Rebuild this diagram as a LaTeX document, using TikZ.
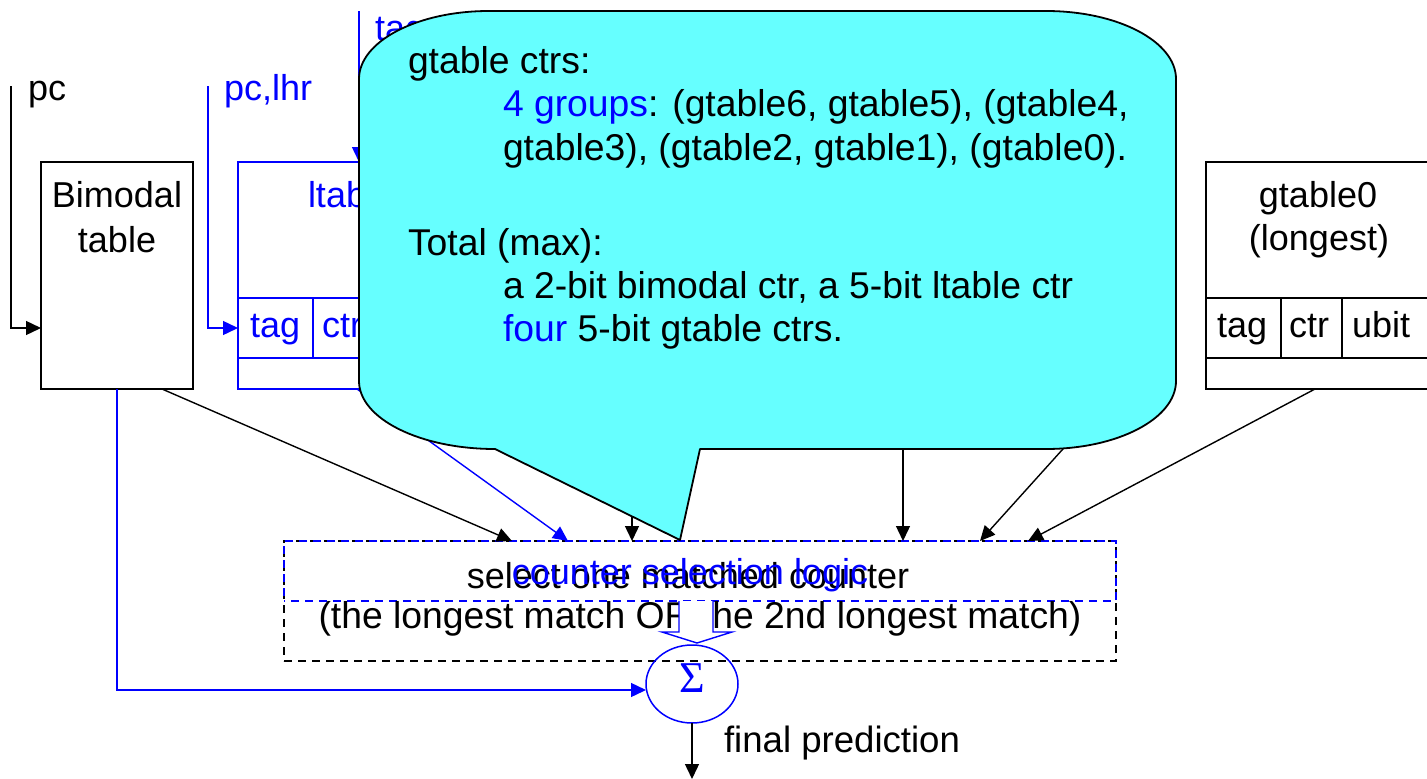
\documentclass[tikz,border=0pt]{standalone}
\usepackage{fontspec}
\setmainfont{Liberation Sans}
\newfontfamily\sigfont{Liberation Serif}
\usetikzlibrary{arrows.meta,shapes.geometric}
\definecolor{cyanfill}{HTML}{66FFFF}
\definecolor{pblue}{HTML}{0000FF}
\tikzset{
  every node/.style={font=\fontsize{36}{43}\selectfont, inner sep=0pt, outer sep=0pt},
  big/.style={font=\fontsize{37.3}{44}\selectfont},
  lbl/.style={anchor=base},
  lblw/.style={anchor=base west},
  blk/.style={draw=black, line width=1.6pt},
  blu/.style={draw=pblue, line width=1.6pt},
  tbox/.style={rectangle, line width=1.6pt, inner sep=0pt},
  conn/.style={draw=black, line width=1.4pt, -{Triangle[length=15pt,width=14pt]}},
  bconn/.style={draw=pblue, line width=1.4pt, -{Triangle[length=15pt,width=14pt]}},
  blkdash/.style={draw=black, line width=1.4pt, dash pattern=on 8pt off 6pt},
  bludash/.style={draw=pblue, line width=1.4pt, dash pattern=on 8pt off 6pt, dash phase=7pt},
  callout/.style={fill=cyanfill, draw=black, line width=1.8pt, line join=round},
}
\begin{document}
\begin{tikzpicture}[x=1pt,y=-1pt]
\useasboundingbox (0,0) rectangle (1427,779);

% ---------- tables ----------
\node[tbox, draw=black, minimum width=152pt, minimum height=227pt] (bim) at (117,275.5) {};
\node[lbl] (bimt1) at (117,207) {Bimodal};
\node[lbl] (bimt2) at (117,252) {table};

\node[tbox, draw=pblue, minimum width=238pt, minimum height=227pt] (ltab) at (357,275.5) {};
\draw[blu] (238,298) -- (476,298);
\draw[blu] (238,358) -- (476,358);
\draw[blu] (313,298) -- (313,358);
\draw[blu] (374,298) -- (374,358);
\node[lblw, text=pblue] (ltabt) at (308,207) {ltable};
\node[lblw, text=pblue] (ltag) at (250,337) {tag};
\node[lblw, text=pblue] (lctr) at (322,337) {ctr};

\node[tbox, draw=black, minimum width=234pt, minimum height=227pt] (gt0) at (1323,275.5) {};
\draw[blk] (1206,298) -- (1440,298);
\draw[blk] (1206,358) -- (1440,358);
\draw[blk] (1281,298) -- (1281,358);
\draw[blk] (1342,298) -- (1342,358);
\node[lbl] (gt0t1) at (1318,207) {gtable0};
\node[lbl] (gt0t2) at (1319,250) {(longest)};
\node[lblw] (gtag) at (1217,337) {tag};
\node[lblw] (gctr) at (1289,337) {ctr};
\node[lblw] (gubit) at (1352,337) {ubit};

% ---------- inputs ----------
\coordinate (pctop) at (11,86);
\coordinate (pcin) at (41,328);
\node[lblw] (pclbl) at (28,100) {pc};
\draw[conn] (pctop) |- (pcin);

\coordinate (lhrtop) at (208,86);
\coordinate (lhrin) at (238,328);
\node[lblw, text=pblue] (lhrlbl) at (224,100) {pc,lhr};
\draw[bconn] (lhrtop) |- (lhrin);

\coordinate (tagtop) at (359,11);
\coordinate (tagin) at (359,162);
\node[lblw, text=pblue] (taglbl) at (375,40) {tag};
\draw[bconn] (tagtop) -- (tagin);

% ---------- selection box ----------
\node[tbox, blkdash, minimum width=832pt, minimum height=120pt] (sel) at (700,601) {};
\node[tbox, bludash, minimum width=832pt, minimum height=60pt] (selup) at (700,571) {};
\node[lbl] (seltxt) at (688,588) {select one matched counter};
\node[lbl, text=pblue] (selblue) at (690,584) {counter selection logic};
\node[lbl, big] (seltxt2) at (700,628) {(the longest match OR the 2nd longest match)};

% ---------- connectors into selection ----------
\coordinate (a1s) at (162,389);  \coordinate (a1e) at (512,541);
\coordinate (a2s) at (357,389);  \coordinate (a2e) at (568,541);
\coordinate (a3s) at (632,400);  \coordinate (a3e) at (632,541);
\coordinate (a4s) at (903,400);  \coordinate (a4e) at (903,541);
\coordinate (a5s) at (1117,389); \coordinate (a5e) at (980,541);
\coordinate (a6s) at (1315,389); \coordinate (a6e) at (1028,541);
\draw[conn] (a1s) -- (a1e);
\draw[bconn] (a2s) -- (a2e);
\draw[conn] (a3s) -- (a3e);
\draw[conn] (a4s) -- (a4e);
\draw[conn] (a5s) -- (a5e);
\draw[conn] (a6s) -- (a6e);

% ---------- sum ----------
\node[ellipse, draw=pblue, line width=1.5pt, minimum width=92pt, minimum height=78pt] (sum) at (692,684) {};
\node[text=pblue, font=\sigfont\fontsize{44}{44}\selectfont] (sig) at (692,678) {Σ};
\coordinate (sumin) at (646,690);
\draw[bconn] (bim.south) |- (sumin);
\coordinate (outc) at (692,779);
\draw[conn] (sum.south) -- (outc);
\node[lblw, font=\fontsize{36.6}{43}\selectfont] (final) at (724,752) {final prediction};

% block arrow
\fill[white] (679,601) -- (679,632) -- (662,632) -- (697,643) -- (732,632) -- (713,632) -- (713,601) -- cycle;
\draw[draw=pblue, line width=1.4pt, line join=miter] (679,601) -- (679,632) -- (662,632) -- (697,643) -- (732,632) -- (713,632) -- (713,601);

% ---------- callout ----------
\path[callout] (359,79)
  .. controls (359,41.4) and (417.2,11) .. (489,11)
  -- (1046,11)
  .. controls (1117.8,11) and (1176,41.4) .. (1176,79)
  -- (1176,381)
  .. controls (1176,418.6) and (1117.8,449) .. (1046,449)
  -- (700,449) -- (680,540) -- (495,449)
  .. controls (419.9,449) and (359,418.6) .. (359,381)
  -- cycle;
\node[lblw, big] (c1) at (408,73) {gtable ctrs:};
\node[lblw, big] (c2) at (503,116) {\textcolor{pblue}{4 groups}: (gtable6, gtable5), (gtable4,};
\node[lblw, big] (c3) at (503,160) {gtable3), (gtable2, gtable1), (gtable0).};
\node[lblw, big] (c4) at (408,255) {Total (max):};
\node[lblw, big] (c5) at (503,298) {a 2-bit bimodal ctr, a 5-bit ltable ctr};
\node[lblw, big] (c6) at (503,341) {\textcolor{pblue}{four} 5-bit gtable ctrs.};
\end{tikzpicture}
\end{document}
